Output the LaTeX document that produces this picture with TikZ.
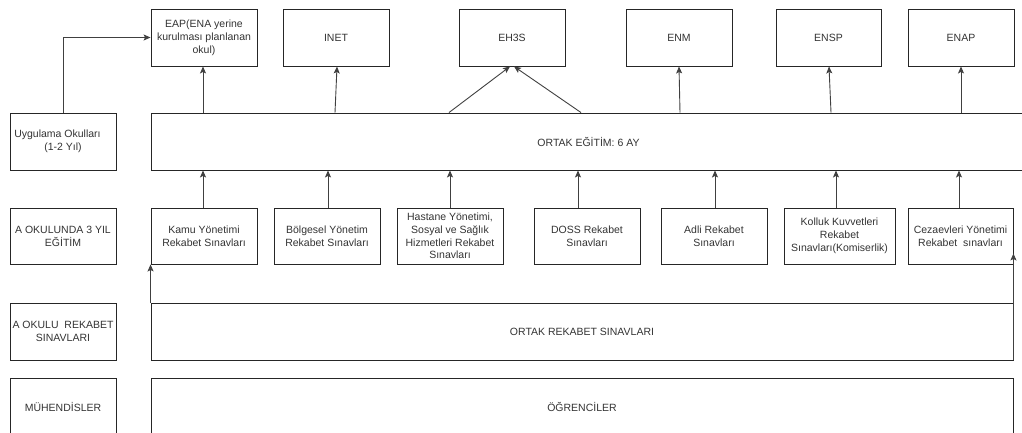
\documentclass[tikz,border=0pt]{standalone}
\usepackage{fontspec}
\setmainfont{Liberation Sans}
\usetikzlibrary{arrows.meta,calc}
\begin{document}
\begin{tikzpicture}[x=1pt,y=-1pt,
  box/.style={draw=black!85, line width=0.9pt, minimum width=106pt, minimum height=57pt,
    inner sep=1pt, align=center, text=black!80,
    font=\fontsize{10.5}{12.8}\selectfont},
  arr/.style={draw=black!75, line width=0.9pt, -{Stealth[length=7pt,width=6pt,inset=1.5pt]}}]
\useasboundingbox (0,0) rectangle (1022,432);
% top row
\node[box] (eap)  at (204,37.5)   {EAP(ENA yerine\\kurulması planlanan\\okul)};
\node[box] (inet) at (336,37.5)   {INET};
\node[box] (eh3s) at (512,37.5)   {EH3S};
\node[box] (enm)  at (679,37.5)   {ENM};
\node[box, minimum width=105pt] (ensp) at (828.5,37.5) {ENSP};
\node[box] (enap) at (961,37.5)   {ENAP};
% second row
\node[box] (uyg) at (63,141.5) {Uygulama Okulları\hspace*{11pt}\\(1-2 Yıl)};
\node[box, minimum width=875pt] (ortak) at (588.5,141.5) {ORTAK EĞİTİM: 6 AY};
% third row
\node[box, minimum height=56pt] (aokul) at (63,236) {A OKULUNDA 3 YIL\\EĞİTİM};
\node[box, minimum height=56pt] (kamu) at (204,236) {Kamu Yönetimi\\Rekabet Sınavları};
\node[box, minimum height=56pt] (bolg) at (327,236) {Bölgesel Yönetim\\Rekabet Sınavları};
\node[box, minimum height=56pt] (hast) at (450,236) {Hastane Yönetimi,\\Sosyal ve Sağlık\\Hizmetleri Rekabet\\Sınavları};
\node[box, minimum height=56pt] (doss) at (587,236) {DOSS Rekabet\\Sınavları};
\node[box, minimum height=56pt] (adli) at (714,236) {Adli Rekabet\\Sınavları};
\node[box, minimum height=56pt, minimum width=111pt] (koll) at (839.5,236) {Kolluk Kuvvetleri\\Rekabet\\Sınavları(Komiserlik)};
\node[box, minimum height=56pt, minimum width=105pt] (cez) at (960.5,236) {Cezaevleri Yönetimi\\Rekabet\ \ sınavları};
% fourth row
\node[box] (arek) at (63,331.5) {A OKULU\ \ REKABET\\SINAVLARI};
\node[box, minimum width=862pt] (orek) at (582,331.5) {ORTAK REKABET SINAVLARI};
% fifth row
\node[box] (muh) at (63,406.5) {MÜHENDİSLER};
\node[box, minimum width=862pt] (ogr) at (582,406.5) {ÖĞRENCİLER};
% arrows to top row
\draw[arr] (uyg.north) |- (eap.west);
\draw[arr] ([xshift=-1pt]eap.south |- ortak.north) -- ([xshift=-1pt]eap.south);
\draw[arr] ([xshift=-1pt]inet.south |- ortak.north) -- ([xshift=1pt]inet.south);
\draw[arr] ([xshift=-63pt]eh3s.south |- ortak.north) -- ([xshift=-2pt]eh3s.south);
\draw[arr] ([xshift=69pt]eh3s.south |- ortak.north) -- ([xshift=2pt]eh3s.south);
\draw[arr] ([xshift=1pt]enm.south |- ortak.north) -- (enm.south);
\draw[arr] ([xshift=2.5pt]ensp.south |- ortak.north) -- ([xshift=0.5pt]ensp.south);
\draw[arr] (enap.south |- ortak.north) -- (enap.south);
% arrows from third row
\draw[arr] ([xshift=-1pt]kamu.north) -- ([xshift=-1pt]kamu.north |- ortak.south);
\draw[arr] ([xshift=1pt]bolg.north) -- ([xshift=1pt]bolg.north |- ortak.south);
\draw[arr] (hast.north) -- (hast.north |- ortak.south);
\draw[arr] ([xshift=-9pt]doss.north) -- ([xshift=-9pt]doss.north |- ortak.south);
\draw[arr] ([xshift=1pt]adli.north) -- ([xshift=1pt]adli.north |- ortak.south);
\draw[arr] ([xshift=-3.5pt]koll.north) -- ([xshift=-3.5pt]koll.north |- ortak.south);
\draw[arr] ([xshift=-1.5pt]cez.north) -- ([xshift=-1.5pt]cez.north |- ortak.south);
% arrows from ortak rekabet
\draw[arr] (orek.north west) -- (kamu.south west);
\draw[arr] (orek.south east) -- ([yshift=11pt]cez.south east);
\end{tikzpicture}
\end{document}
